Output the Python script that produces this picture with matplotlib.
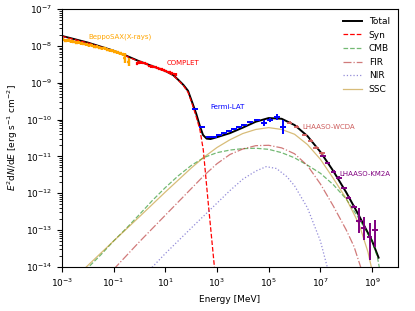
import numpy as np
import matplotlib
matplotlib.use("Agg")
import matplotlib.pyplot as plt

# model curves as log10(E/MeV), log10(E^2 dN/dE)
tot_lx = [-3, -2, -1, -0.5, 0, 0.5, 1.0, 1.3, 1.5, 1.7, 1.88, 2.05, 2.2, 2.34, 2.46, 2.6, 2.75,
          3.0, 3.5, 4.0, 4.5, 5.0, 5.5, 6.0, 6.5, 7.0, 7.5, 8.0, 8.5, 9.0, 9.25]
tot_ly = [-7.73, -7.91, -8.13, -8.27, -8.42, -8.55, -8.68, -8.79, -8.92, -9.06, -9.22, -9.55, -9.85, -10.18, -10.42, -10.52, -10.53,
          -10.48, -10.37, -10.22, -10.06, -9.96, -9.98, -10.15, -10.45, -10.88, -11.4, -11.98, -12.62, -13.3, -13.75]

syn_lx = [-3, -2, -1, -0.5, 0, 0.5, 1.0, 1.3, 1.5, 1.7, 1.88, 2.05, 2.2, 2.34, 2.47, 2.65, 2.9, 2.95]
syn_ly = [-7.74, -7.92, -8.14, -8.28, -8.43, -8.56, -8.69, -8.80, -8.93, -9.08, -9.26, -9.6, -9.93, -10.28, -10.82, -12.18, -14.0, -14.4]

cmb_lx = [-2.1, -1.5, -1, -0.5, 0, 0.5, 1.0, 1.5, 2.0, 2.5, 3.0, 3.5, 4.0, 4.5, 5.0, 5.5, 6.0, 6.5,
          7.0, 7.5, 8.0, 8.5, 9.0, 9.2, 9.3]
cmb_ly = [-14.1, -13.68, -13.3, -12.95, -12.58, -12.2, -11.85, -11.53, -11.25, -11.03, -10.9, -10.83, -10.79, -10.78, -10.81, -10.9, -11.04, -11.24,
          -11.46, -11.77, -12.16, -12.7, -13.3, -13.72, -14.1]

fir_lx = [-1.0, 0, 1, 2, 2.5, 3, 3.5, 4, 4.5, 5, 5.5, 6, 6.5, 7, 7.5, 8, 8.3, 8.6]
fir_ly = [-14.07, -13.32, -12.6, -11.88, -11.52, -11.2, -10.95, -10.8, -10.71, -10.7, -10.77, -10.93, -11.25, -11.75, -12.35, -13.0, -13.45, -14.1]

nir_lx = [0.4, 1, 2, 3, 3.5, 4, 4.5, 4.9, 5.3, 5.7, 6.0, 6.5, 7.0, 7.3]
nir_ly = [-14.08, -13.64, -12.95, -12.27, -11.93, -11.62, -11.4, -11.28, -11.33, -11.55, -11.8, -12.4, -13.3, -14.1]

ssc_lx = [-2.2, -1, 0, 1, 2, 2.5, 3, 3.5, 4, 4.5, 5, 5.5, 6.0, 6.5, 7.0, 7.5, 8.0, 8.5, 8.84, 9.0]
ssc_ly = [-14.1, -13.3, -12.64, -11.97, -11.32, -11.02, -10.76, -10.55, -10.38, -10.27, -10.22, -10.27, -10.4, -10.68, -11.08, -11.6, -12.15, -12.85, -13.6, -14.1]

# data points
sax_lx = [-2.95, -2.85, -2.75, -2.65, -2.55, -2.45, -2.35, -2.25, -2.15, -2.05, -1.95, -1.85, -1.75,
          -1.65, -1.55, -1.45, -1.35, -1.25, -1.15, -1.05, -0.95, -0.85, -0.75, -0.65, -0.56, -0.41]
sax_ly = [-7.84, -7.86, -7.85, -7.88, -7.89, -7.91, -7.90, -7.93, -7.95, -7.96, -7.98, -7.99, -8.02,
          -8.03, -8.05, -8.07, -8.06, -8.10, -8.12, -8.13, -8.16, -8.18, -8.20, -8.23, -8.33, -8.44]
sax_err = [0.04] * 24 + [0.14, 0.12]

com_lx = [-0.10, -0.02, 0.06, 0.14, 0.22, 0.30, 0.38, 0.46, 0.54, 0.62, 0.70, 0.78, 0.86, 0.94,
          1.02, 1.10, 1.18, 1.26, 1.34, 1.42]
com_ly = [-8.48, -8.46, -8.45, -8.47, -8.46, -8.50, -8.55, -8.56, -8.57, -8.58, -8.60, -8.62, -8.64, -8.65,
          -8.68, -8.70, -8.72, -8.74, -8.77, -8.78]

lat_lx = [2.15, 2.42, 2.69, 2.88, 3.07, 3.27, 3.46, 3.65, 3.85, 4.04, 4.27, 4.54, 4.81, 5.05, 5.32, 5.55]
lat_ly = [-9.72, -10.20, -10.47, -10.47, -10.43, -10.37, -10.31, -10.26, -10.20, -10.15, -10.07, -10.01,
          -10.09, -10.01, -9.93, -10.20]
lat_err = [0.03] * 12 + [0.08, 0.06, 0.07, 0.18]

wcda_lx = [5.82, 6.09, 6.40, 6.63, 6.83, 7.06]
wcda_ly = [-10.09, -10.20, -10.42, -10.58, -10.77, -10.91]

km2a_lx = [7.10, 7.29, 7.52, 7.72, 7.91, 8.10, 8.30, 8.49, 8.68, 8.91, 9.11]
km2a_ly = [-10.99, -11.18, -11.42, -11.58, -11.86, -12.13, -12.37, -12.75, -12.94, -13.19, -13.0]
km2a_up = [0.04] * 7 + [0.35, 0.30, 0.38, 0.28]
km2a_lo = [0.04] * 7 + [0.33, 0.33, 0.62, 0.46]


def pts(lx, ly, up, lo, dx):
    x = 10.0 ** np.array(lx)
    y = 10.0 ** np.array(ly)
    yerr = [y - y * 10.0 ** -np.array(lo), y * 10.0 ** np.array(up) - y]
    xerr = [x - x * 10 ** -dx, x * 10 ** dx - x]
    return x, y, xerr, yerr


fs = 6.5
plt.rcParams['font.size'] = fs
fig = plt.figure(figsize=(4.15, 3.11), dpi=100)
ax = fig.add_axes([0.149, 0.142, 0.81, 0.829])

ax.plot(10.0 ** np.array(tot_lx), 10.0 ** np.array(tot_ly), 'k-', lw=1.4, label='Total')
ax.plot(10.0 ** np.array(syn_lx), 10.0 ** np.array(syn_ly), 'r--', lw=0.9, label='Syn')
ax.plot(10.0 ** np.array(cmb_lx), 10.0 ** np.array(cmb_ly), '--', color='g', alpha=0.55, lw=0.9, label='CMB')
ax.plot(10.0 ** np.array(fir_lx), 10.0 ** np.array(fir_ly), '-.', color='#b22222', alpha=0.6, lw=0.9, label='FIR')
ax.plot(10.0 ** np.array(nir_lx), 10.0 ** np.array(nir_ly), ':', color='#4b3fbf', alpha=0.6, lw=0.9, label='NIR')
ax.plot(10.0 ** np.array(ssc_lx), 10.0 ** np.array(ssc_ly), '-', color='darkgoldenrod', alpha=0.55, lw=0.9, label='SSC')

x, y, xe, ye = pts(sax_lx, sax_ly, sax_err, sax_err, 0.06)
ax.errorbar(x, y, xerr=xe, yerr=ye, fmt='none', ecolor='orange', elinewidth=1.7)
x, y, xe, ye = pts(com_lx, com_ly, [0.03] * 20, [0.03] * 20, 0.05)
ax.errorbar(x, y, xerr=xe, yerr=ye, fmt='none', ecolor='red', elinewidth=1.6)
x, y, xe, ye = pts(lat_lx, lat_ly, lat_err, lat_err, 0.12)
ax.errorbar(x, y, xerr=xe, yerr=ye, fmt='none', ecolor='blue', elinewidth=1.4)
x, y, xe, ye = pts(wcda_lx, wcda_ly, [0.04] * 6, [0.04] * 6, 0.1)
ax.errorbar(x, y, xerr=xe, yerr=ye, fmt='none', ecolor='indianred', elinewidth=1.3)
x, y, xe, ye = pts(km2a_lx, km2a_ly, km2a_up, km2a_lo, 0.1)
ax.errorbar(x, y, xerr=xe, yerr=ye, fmt='none', ecolor='purple', elinewidth=1.4)

ax.text(10 ** -1.96, 10 ** -7.76, 'BeppoSAX(X-rays)', color='orange', fontsize=5, va='center')
ax.text(10 ** 1.06, 10 ** -8.47, 'COMPLET', color='red', fontsize=5, va='center')
ax.text(10 ** 2.73, 10 ** -9.66, 'Fermi-LAT', color='blue', fontsize=5, va='center')
ax.text(10 ** 6.32, 10 ** -10.2, 'LHAASO-WCDA', color='indianred', fontsize=5, va='center')
ax.text(10 ** 7.75, 10 ** -11.48, 'LHAASO-KM2A', color='purple', fontsize=5, va='center')

ax.set_xscale('log')
ax.set_yscale('log')
ax.set_xlim(1e-3, 1e10)
ax.set_ylim(1e-14, 1e-7)
ax.set_xlabel('Energy [MeV]')
ax.set_ylabel(r'$E^2\mathrm{d}N/\mathrm{d}E$ [erg s$^{-1}$ cm$^{-2}$]')
ax.legend(loc='upper right', frameon=False, fontsize=fs)

fig.savefig('out.png', dpi=100)
